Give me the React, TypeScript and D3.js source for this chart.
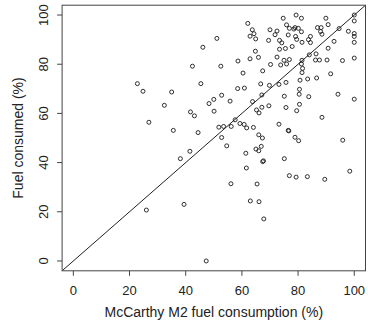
import React from "react";
import * as d3 from "d3";

const mccarthy: number[] = [
  22.8, 24.8, 35.0, 32.4, 26.9, 35.6, 41.7, 43.1, 44.4, 42.4, 46.1, 45.4, 48.3, 41.5, 38.1, 26.0, 39.4, 47.3,
  100, 79.3, 81.2, 74.7, 89.9, 100, 62.1, 75.9, 76.9, 78.5, 78.9, 80.1, 86.9, 88.2, 90.7, 88.0, 88.5, 94.6, 97.9, 100, 100,
  63.7, 64.3, 62.9, 64.9, 70.0, 72.5, 71.8, 69.5, 73.4, 74.2, 76.5, 79.1, 79.5, 81.2, 81.4, 83.7, 84.4, 84.4, 92.8, 100, 51.1,
  73.4, 75.5, 77.9, 90.7, 86.4, 64.8, 65.9, 62.9, 58.6, 72.5, 75.0, 76.9, 75.9, 73.8, 70.2, 81.4, 81.2, 84.0, 86.2, 87.6, 90.3, 95.8, 100,
  52.5, 67.4, 60.4, 81.6, 81.4, 91.6, 80.7, 83.4, 86.6, 66.7, 69.8, 73.2, 75.7, 58.5, 60.9, 80.5, 80.4, 83.8, 94.2, 100, 52.8, 50.0, 55.8, 63.8, 75.1, 67.1,
  50.1, 65.2, 66.1, 67.1, 69.6, 75.7, 79.5, 80.5, 88.5, 57.6, 51.8, 53.5, 56.2, 59.3, 60.8, 61.7, 64.1, 73.2, 76.5, 76.7, 52.8, 54.6, 66.0, 67.3, 78.9, 80.2, 95.9,
  61.4, 65.0, 66.0, 66.9, 67.7, 67.4, 75.1, 61.6, 98.4, 56.1, 65.4, 76.9, 79.3, 83.3, 89.5, 63.0, 66.1, 67.8,
];

const consumed: number[] = [
  72.1, 69.0, 68.7, 63.3, 56.4, 53.1, 60.6, 59.0, 52.2, 79.2, 86.9, 72.1, 64.0, 44.6, 41.6, 20.7, 23.0, 0,
  100, 100, 98.7, 98.7, 98.7, 97.6, 96.6, 96.0, 94.6, 94.3, 94.9, 94.6, 94.9, 94.9, 96.1, 93.3, 92.2, 94.5, 93.4, 92.5, 91.3,
  94.0, 92.4, 91.4, 90.3, 94.0, 93.5, 92.0, 89.7, 89.7, 88.7, 91.9, 91.3, 90.1, 93.2, 88.9, 90.0, 88.8, 91.3, 89.3, 88.9, 90.5,
  86.1, 86.4, 87.2, 86.5, 84.2, 85.3, 82.8, 82.2, 81.3, 82.9, 81.6, 81.9, 80.1, 79.7, 79.9, 81.6, 80.1, 83.8, 81.7, 81.7, 81.7, 81.5, 82.5,
  79.2, 77.3, 76.4, 78.3, 76.6, 76.1, 73.5, 74.0, 74.4, 72.0, 71.4, 71.8, 72.6, 70.1, 70.3, 69.8, 67.8, 66.8, 67.8, 65.8, 67.4, 65.7, 65.0, 64.8, 67.0, 67.5,
  60.9, 61.4, 60.2, 62.5, 63.1, 62.4, 61.1, 63.7, 58.4, 57.4, 54.4, 54.7, 54.7, 55.9, 55.5, 54.1, 54.3, 55.6, 53.1, 52.9, 50.2, 46.8, 51.3, 50.0, 50.3, 48.9, 49.1,
  43.8, 45.5, 44.8, 46.6, 40.7, 40.4, 41.6, 37.8, 36.5, 31.4, 31.3, 34.7, 34.1, 34.3, 33.2, 24.4, 24.1, 17.1,
];

const ticks: number[] = [0, 20, 40, 60, 80, 100];
const xTitle = "McCarthy M2 fuel consumption (%)";
const yTitle = "Fuel consumed (%)";
const domain: [number, number] = [-4, 104];

const W = 368;
const H = 325;
const L = 62.1, R = 365.5, T = 5.2, B = 270.8;

export default function App() {
  const x = d3.scaleLinear().domain(domain).range([L, R]);
  const y = d3.scaleLinear().domain(domain).range([B, T]);
  const font = "'Liberation Sans', Arial, Helvetica, sans-serif";
  const lineGen = d3.line<number>().x((d) => x(d)).y((d) => y(d));
  return (
    <svg width={W} height={H} style={{ position: "absolute", left: 0, top: 0, background: "#fff" }} fontFamily={font}>
      <defs>
        <clipPath id="plotclip">
          <rect x={L} y={T} width={R - L} height={B - T} />
        </clipPath>
      </defs>
      <path d={lineGen(domain) || ""} stroke="#222" strokeWidth={1} fill="none" clipPath="url(#plotclip)" />
      {mccarthy.map((v, i) => (
        <circle key={i} cx={x(v)} cy={y(consumed[i])} r={2} fill="none" stroke="#1a1a1a" strokeWidth={0.9} />
      ))}
      <rect x={L} y={T} width={R - L} height={B - T} fill="none" stroke="#444" strokeWidth={1} />
      {ticks.map((t) => (
        <g key={"x" + t}>
          <line x1={x(t)} x2={x(t)} y1={B} y2={B + 5} stroke="#444" />
          <text x={x(t)} y={295} textAnchor="middle" fontSize={13} fill="#222">{t}</text>
        </g>
      ))}
      {ticks.map((t) => (
        <g key={"y" + t}>
          <line x1={L - 5} x2={L} y1={y(t)} y2={y(t)} stroke="#444" />
          <text transform={`translate(47.5,${y(t)}) rotate(-90)`} textAnchor="middle" fontSize={13} fill="#222">{t}</text>
        </g>
      ))}
      <text x={(L + R) / 2} y={317} textAnchor="middle" fontSize={14} fill="#222">{xTitle}</text>
      <text transform={`translate(23,${(T + B) / 2}) rotate(-90)`} textAnchor="middle" fontSize={14} fill="#222">{yTitle}</text>
    </svg>
  );
}
